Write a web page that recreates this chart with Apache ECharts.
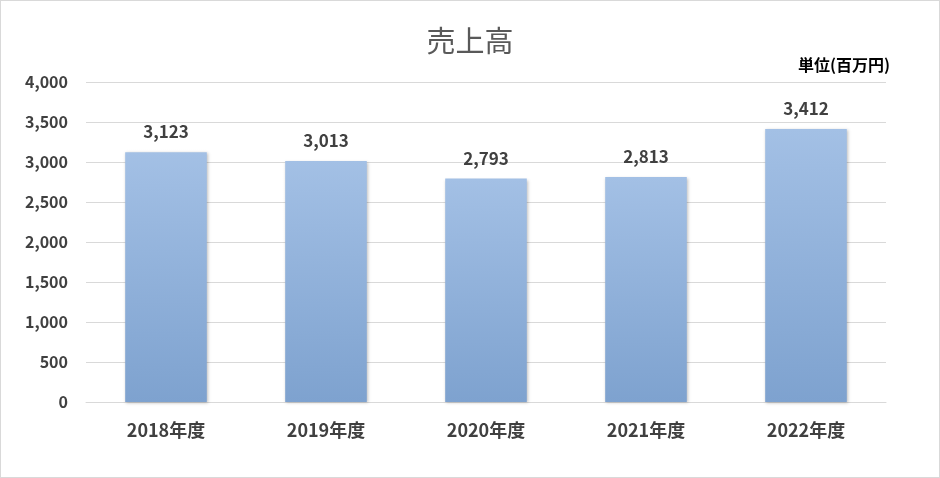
<!DOCTYPE html>
<html>
<head>
<meta charset="utf-8">
<script src="https://cdn.jsdelivr.net/npm/echarts@6/dist/echarts.min.js"></script>
<style>
  html, body { margin: 0; padding: 0; background: #fff; }
  #chart { width: 938px; height: 476px; border: 1px solid #d9d9d9; }
</style>
</head>
<body>
<div id="chart"></div>
<script>
    // 年度
    var years = ['2018年度', '2019年度', '2020年度', '2021年度', '2022年度'];
    // 売上高(百万円)
    var sales = [3123, 3013, 2793, 2813, 3412];
    var yTicks = [0, 500, 1000, 1500, 2000, 2500, 3000, 3500, 4000];

    var fontFamily = '"Noto Sans CJK JP", "Liberation Sans", sans-serif';

    function fmt(v) {
        return String(v).replace(/\B(?=(\d{3})+(?!\d))/g, ',');
    }

    var option = {
        backgroundColor: '#fff',
        animation: false,
        textStyle: { fontFamily: fontFamily },
        title: [{
            text: '売上高',
            left: 'center',
            top: 20,
            textStyle: { fontSize: 29, fontWeight: 'normal', color: '#595959', fontFamily: fontFamily }
        }, {
            text: '単位(百万円)',
            right: 44,
            top: 51,
            textStyle: { fontSize: 16, fontWeight: 'bold', color: '#000', fontFamily: fontFamily }
        }],
        grid: {
            left: 85,
            right: 53,
            top: 81,
            bottom: 75
        },
        xAxis: {
            type: 'category',
            data: years,
            axisTick: { show: false },
            axisLine: { lineStyle: { color: '#d9d9d9', width: 1 } },
            axisLabel: {
                color: '#404040',
                fontSize: 18,
                fontWeight: 'bold',
                margin: 19
            }
        },
        yAxis: {
            type: 'value',
            min: yTicks[0],
            max: yTicks[yTicks.length - 1],
            interval: 500,
            axisTick: { show: false },
            axisLine: { show: false },
            axisLabel: {
                color: '#404040',
                fontSize: 16,
                fontWeight: 'bold',
                margin: 18,
                formatter: function (value) { return fmt(value); }
            },
            splitLine: { show: true, lineStyle: { color: '#d9d9d9', width: 1 } }
        },
        series: [{
            type: 'bar',
            data: sales,
            barWidth: '51%',
            itemStyle: {
                color: new echarts.graphic.LinearGradient(0, 0, 0, 1, [
                    { offset: 0, color: '#a3c0e5' },
                    { offset: 1, color: '#7ea2cf' }
                ]),
                shadowColor: 'rgba(0,0,0,0.25)',
                shadowBlur: 3,
                shadowOffsetX: 1,
                shadowOffsetY: 1
            },
            label: {
                show: true,
                position: 'top',
                distance: 12,
                color: '#404040',
                fontSize: 17,
                fontWeight: 'bold',
                formatter: function (p) { return fmt(p.value); }
            }
        }]
    };

    var chart = echarts.init(document.getElementById('chart'));
    chart.setOption(option);
</script>
</body>
</html>
